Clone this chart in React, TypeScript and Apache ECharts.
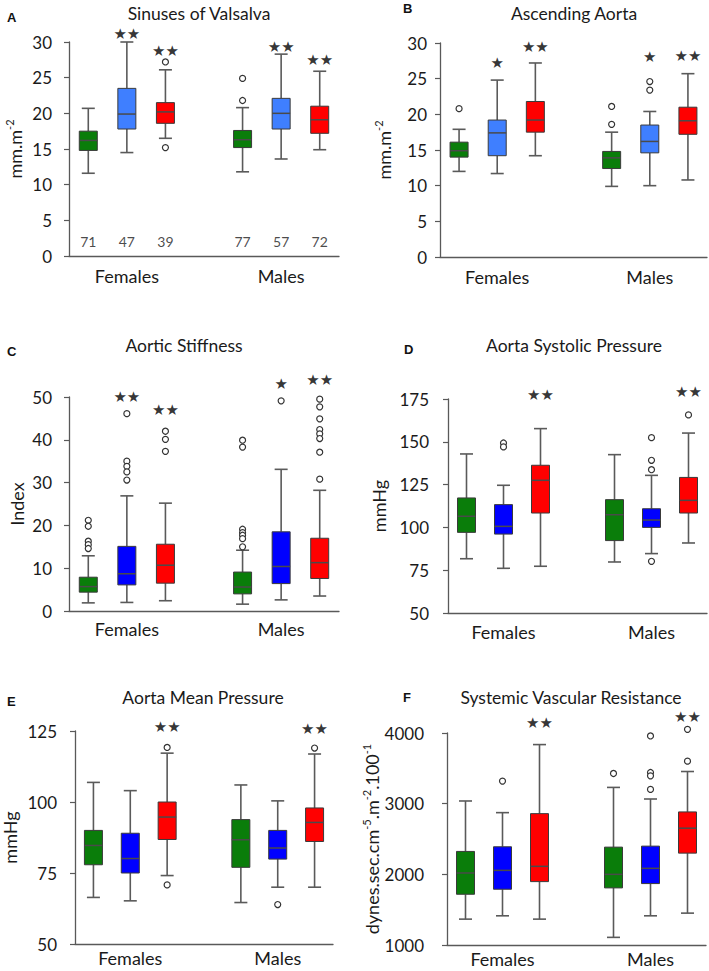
import React, { useEffect, useRef } from "react";
import * as echarts from "echarts";

// ---------- DATA ----------
const groups = ["Females", "Males"];
// 7 slots on each x axis: three boxes per sex and one empty gap
const slots = ["Females-1", "Females-2", "Females-3", "gap", "Males-1", "Males-2", "Males-3"];

// Box stats [min, Q1, median, Q3, max]; order: F green, F blue, F red, M green, M blue, M red
const sinusesBoxes = [
  [11.6, 14.8, 16.2, 17.5, 20.7],
  [14.5, 17.8, 19.9, 23.5, 30.0],
  [16.5, 18.6, 20.2, 21.5, 26.1],
  [11.8, 15.2, 16.3, 17.6, 20.8],
  [13.6, 17.8, 20.0, 22.1, 28.3],
  [14.9, 17.2, 19.1, 21.0, 25.9],
];
const sinusesOutliers = [[2, 27.2], [2, 15.2], [4, 24.9], [4, 21.8]];
const sinusesStars = [[1, "★★", 31.1], [2, "★★", 28.8], [5, "★★", 29.3], [6, "★★", 27.5]];
const sinusesCounts = [71, 47, 39, 77, 57, 72];
const sinusesTicks = [0, 30, 5];

const ascendingBoxes = [
  [12.0, 14.0, 14.9, 16.1, 17.9],
  [11.7, 14.2, 17.4, 19.2, 24.8],
  [14.2, 17.5, 19.2, 21.8, 27.2],
  [9.9, 12.4, 13.9, 14.8, 17.5],
  [10.0, 14.6, 16.2, 18.5, 20.4],
  [10.8, 17.2, 19.1, 21.0, 25.7],
];
const ascendingOutliers = [[0, 20.8], [4, 21.1], [4, 18.6], [5, 24.6], [5, 23.4]];
const ascendingStars = [[1, "★", 27.2], [2, "★★", 29.4], [5, "★", 28.1], [6, "★★", 28.2]];
const ascendingTicks = [0, 30, 5];

const stiffnessBoxes = [
  [1.9, 4.4, 5.7, 7.9, 12.9],
  [2.0, 6.1, 8.7, 15.1, 26.9],
  [2.4, 6.5, 10.7, 15.6, 25.2],
  [1.6, 4.0, 5.6, 9.1, 14.2],
  [2.6, 6.4, 10.4, 18.5, 33.1],
  [3.5, 7.6, 11.3, 17.0, 28.2],
];
const stiffnessOutliers = [
  [0, 21.2], [0, 19.8], [0, 16.3], [0, 15.5], [0, 14.6],
  [1, 46.1], [1, 35.0], [1, 33.8], [1, 32.5], [1, 30.6],
  [2, 42.0], [2, 40.1], [2, 37.3],
  [4, 39.9], [4, 38.3], [4, 19.1], [4, 18.3], [4, 17.7], [4, 16.9], [4, 15.0],
  [5, 49.1],
  [6, 49.5], [6, 47.7], [6, 44.9], [6, 42.4], [6, 41.4], [6, 40.3], [6, 37.1], [6, 30.8],
];
const stiffnessStars = [[1, "★★", 50.1], [2, "★★", 47.0], [5, "★", 53.0], [6, "★★", 54.0]];
const stiffnessTicks = [0, 50, 10];

const systolicBoxes = [
  [81.7, 97.1, 106.5, 117.2, 142.9],
  [76.1, 96.1, 100.6, 113.3, 124.6],
  [77.3, 108.4, 127.5, 136.3, 157.7],
  [79.8, 92.3, 107.4, 116.2, 142.5],
  [84.7, 100.0, 104.3, 110.9, 130.4],
  [90.9, 108.4, 115.8, 129.2, 155.1],
];
const systolicOutliers = [[1, 149.3], [1, 147.0], [5, 152.4], [5, 139.2], [5, 133.7], [5, 80.2], [6, 165.7]];
const systolicStars = [[2, "★★", 177.5], [6, "★★", 178.9]];
const systolicTicks = [50, 175, 25];

const meanBoxes = [
  [66.4, 77.9, 84.7, 90.0, 106.9],
  [65.2, 75.0, 80.1, 89.0, 104.0],
  [74.1, 86.8, 94.7, 100.0, 117.2],
  [64.6, 77.0, 86.7, 93.8, 106.0],
  [70.0, 79.9, 83.8, 90.0, 100.4],
  [70.0, 86.1, 92.8, 97.9, 116.9],
];
const meanOutliers = [[2, 119.2], [2, 70.8], [5, 63.9], [6, 119.0]];
const meanStars = [[2, "★★", 126.3], [6, "★★", 125.7]];
const meanTicks = [50, 125, 25];

const resistanceBoxes = [
  [1366, 1718, 2019, 2324, 3038],
  [1413, 1789, 2056, 2390, 2873],
  [1366, 1897, 2113, 2859, 3836],
  [1108, 1808, 2000, 2385, 3230],
  [1413, 1869, 2085, 2399, 3066],
  [1451, 2300, 2653, 2883, 3455],
];
const resistanceOutliers = [[1, 3319], [4, 3427], [5, 3958], [5, 3441], [5, 3394], [5, 3202], [6, 4052], [6, 3601]];
const resistanceStars = [[2, "★★", 4146], [6, "★★", 4230]];
const resistanceTicks = [1000, 4000, 1000];

// ---------- STYLE / LAYOUT ----------
const FONT = "Lato, 'Open Sans', sans-serif";
const GREEN = "#0a7d0a";
const LIGHT_BLUE = "#3f7fff";
const BLUE = "#0000ff";
const RED = "#ff0000";
const AXIS = "#595959";

const boxSlots = [0, 1, 2, 4, 5, 6];

const supRich = {
  n: { fontSize: 18, lineHeight: 22, fontFamily: FONT, color: "#1a1a1a" },
  s: { fontSize: 11, lineHeight: 11, verticalAlign: "top", fontFamily: FONT, color: "#1a1a1a" },
};

const panels = [
  {
    letter: "A", title: "Sinuses of Valsalva", boxes: sinusesBoxes, outliers: sinusesOutliers,
    stars: sinusesStars, counts: sinusesCounts, ticks: sinusesTicks,
    name: "{n|mm.m}{s|-2}", nameGap: 43, labelMargin: 17, xMargin: 10,
    colors: [GREEN, LIGHT_BLUE, RED],
    grid: { left: 69, top: 42, width: 270, height: 214 },
    titlePos: [199, 13], letterPos: [7, 17],
  },
  {
    letter: "B", title: "Ascending Aorta", boxes: ascendingBoxes, outliers: ascendingOutliers,
    stars: ascendingStars, counts: null, ticks: ascendingTicks,
    name: "{n|mm.m}{s|-2}", nameGap: 45, labelMargin: 13, xMargin: 10,
    colors: [GREEN, LIGHT_BLUE, RED],
    grid: { left: 440, top: 43, width: 267, height: 214 },
    titlePos: [574, 13], letterPos: [403, 8],
  },
  {
    letter: "C", title: "Aortic Stiffness", boxes: stiffnessBoxes, outliers: stiffnessOutliers,
    stars: stiffnessStars, counts: null, ticks: stiffnessTicks,
    name: "{n|Index}", nameGap: 41, labelMargin: 17, xMargin: 8,
    colors: [GREEN, BLUE, RED],
    grid: { left: 69, top: 397, width: 270, height: 214 },
    titlePos: [184, 345], letterPos: [7, 351],
  },
  {
    letter: "D", title: "Aorta Systolic Pressure", boxes: systolicBoxes, outliers: systolicOutliers,
    stars: systolicStars, counts: null, ticks: systolicTicks,
    name: "{n|mmHg}", nameGap: 58, labelMargin: 19, xMargin: 9,
    colors: [GREEN, BLUE, RED],
    grid: { left: 448, top: 399, width: 259, height: 214 },
    titlePos: [574, 345], letterPos: [404, 349],
  },
  {
    letter: "E", title: "Aorta Mean Pressure", boxes: meanBoxes, outliers: meanOutliers,
    stars: meanStars, counts: null, ticks: meanTicks,
    name: "{n|mmHg}", nameGap: 54, labelMargin: 18, xMargin: 4,
    colors: [GREEN, BLUE, RED],
    grid: { left: 73, top: 731, width: 260, height: 213 },
    titlePos: [203, 697], letterPos: [7, 701],
  },
  {
    letter: "F", title: "Systemic Vascular Resistance", boxes: resistanceBoxes, outliers: resistanceOutliers,
    stars: resistanceStars, counts: null, ticks: resistanceTicks,
    name: "{n|dynes.sec.cm}{s|-5}{n|.m}{s|-2}{n|.100}{s|-1}", nameGap: 57, labelMargin: 23, xMargin: 4,
    colors: [GREEN, BLUE, RED],
    grid: { left: 447, top: 733, width: 259, height: 212 },
    titlePos: [571, 697], letterPos: [403, 697],
  },
];

function buildOption() {
  const grid: any[] = [];
  const xAxis: any[] = [];
  const yAxis: any[] = [];
  const series: any[] = [];
  const graphic: any[] = [];

  panels.forEach((p, pi) => {
    grid.push({ ...p.grid, containLabel: false });
    xAxis.push({
      type: "category",
      gridIndex: pi,
      data: slots,
      boundaryGap: true,
      axisLine: { lineStyle: { color: AXIS, width: 1.3 } },
      axisTick: { show: false },
      splitLine: { show: false },
      axisLabel: {
        interval: 0,
        margin: p.xMargin,
        fontSize: 18,
        lineHeight: 20,
        fontFamily: FONT,
        color: "#1a1a1a",
        formatter: (_v: string, i: number) => (i === 1 ? groups[0] : i === 5 ? groups[1] : ""),
      },
    });
    yAxis.push({
      type: "value",
      gridIndex: pi,
      min: p.ticks[0],
      max: p.ticks[1],
      interval: p.ticks[2],
      name: p.name,
      nameLocation: "middle",
      nameGap: p.nameGap,
      nameRotate: 90,
      nameTextStyle: { rich: supRich, fontSize: 18, fontFamily: FONT, color: "#1a1a1a" },
      axisLine: { show: true, lineStyle: { color: AXIS, width: 1.3 } },
      axisTick: { show: true, length: 5, lineStyle: { color: AXIS, width: 1.2 } },
      splitLine: { show: false },
      axisLabel: {
        fontSize: 17,
        fontFamily: FONT,
        color: "#1a1a1a",
        margin: p.labelMargin,
        formatter: (v: number) => String(v),
      },
    });

    const colors = p.colors;
    series.push({
      type: "custom",
      xAxisIndex: pi,
      yAxisIndex: pi,
      encode: { x: 0, y: [1, 2, 3, 4, 5] },
      data: p.boxes.map((b, i) => [boxSlots[i], ...b, i % 3]),
      renderItem: (_params: any, api: any) => {
        const slot = api.value(0);
        const mn = api.coord([slot, api.value(1)]);
        const q1 = api.coord([slot, api.value(2)])[1];
        const md = api.coord([slot, api.value(3)])[1];
        const q3 = api.coord([slot, api.value(4)])[1];
        const mx = api.coord([slot, api.value(5)])[1];
        const color = colors[api.value(6)];
        const x = mn[0];
        const y0 = mn[1];
        const half = 9;
        const cap = 6.5;
        const ws = { stroke: "#5a5a5a", lineWidth: 1.6 };
        return {
          type: "group",
          children: [
            { type: "line", shape: { x1: x, y1: y0, x2: x, y2: q1 }, style: ws },
            { type: "line", shape: { x1: x, y1: q3, x2: x, y2: mx }, style: ws },
            { type: "line", shape: { x1: x - cap, y1: y0, x2: x + cap, y2: y0 }, style: ws },
            { type: "line", shape: { x1: x - cap, y1: mx, x2: x + cap, y2: mx }, style: ws },
            {
              type: "rect",
              shape: { x: x - half, y: q3, width: half * 2, height: q1 - q3 },
              style: { fill: color, stroke: "#3a3a3a", lineWidth: 1 },
            },
            {
              type: "line",
              shape: { x1: x - half, y1: md, x2: x + half, y2: md },
              style: { stroke: "#4a4a4a", lineWidth: 1.5 },
            },
          ],
        };
      },
      z: 2,
    });

    series.push({
      type: "scatter",
      xAxisIndex: pi,
      yAxisIndex: pi,
      data: p.outliers,
      symbol: "circle",
      symbolSize: 6,
      clip: false,
      itemStyle: { color: "#ffffff", borderColor: "#333333", borderWidth: 1.2, opacity: 1 },
      z: 3,
    });

    series.push({
      type: "scatter",
      xAxisIndex: pi,
      yAxisIndex: pi,
      data: p.stars.map((s) => ({ name: s[1], value: [s[0], s[2]] })),
      symbolSize: 0,
      clip: false,
      label: {
        show: true,
        position: "inside",
        formatter: "{b}",
        fontSize: 15,
        fontFamily: "'DejaVu Sans', sans-serif",
        color: "#000",
      },
      z: 4,
    });

    if (p.counts) {
      series.push({
        type: "scatter",
        xAxisIndex: pi,
        yAxisIndex: pi,
        data: p.counts.map((c, i) => ({ name: String(c), value: [boxSlots[i], 2] })),
        symbolSize: 0,
        clip: false,
        label: {
          show: true,
          position: "inside",
          formatter: "{b}",
          fontSize: 14,
          fontFamily: FONT,
          color: "#1a1a1a",
        },
        z: 4,
      });
    }

    graphic.push({
      type: "text",
      x: p.titlePos[0],
      y: p.titlePos[1],
      style: {
        text: p.title,
        fontSize: 17.5,
        fontFamily: FONT,
        fill: "#1a1a1a",
        align: "center",
        verticalAlign: "middle",
      },
    });
    graphic.push({
      type: "text",
      x: p.letterPos[0],
      y: p.letterPos[1],
      style: {
        text: p.letter,
        fontSize: 13,
        fontWeight: "bold",
        fontFamily: "'Liberation Sans', Arial, sans-serif",
        fill: "#111",
        align: "left",
        verticalAlign: "middle",
      },
    });
  });

  return {
    animation: false,
    backgroundColor: "#ffffff",
    grid,
    xAxis,
    yAxis,
    series,
    graphic,
  };
}

export default function App() {
  const ref = useRef<HTMLDivElement>(null);
  useEffect(() => {
    document.body.style.margin = "0";
    if (!ref.current) return;
    const chart = echarts.init(ref.current, undefined, { renderer: "svg" });
    chart.setOption(buildOption() as any);
    return () => chart.dispose();
  }, []);
  return <div ref={ref} style={{ width: 709, height: 971 }} />;
}
